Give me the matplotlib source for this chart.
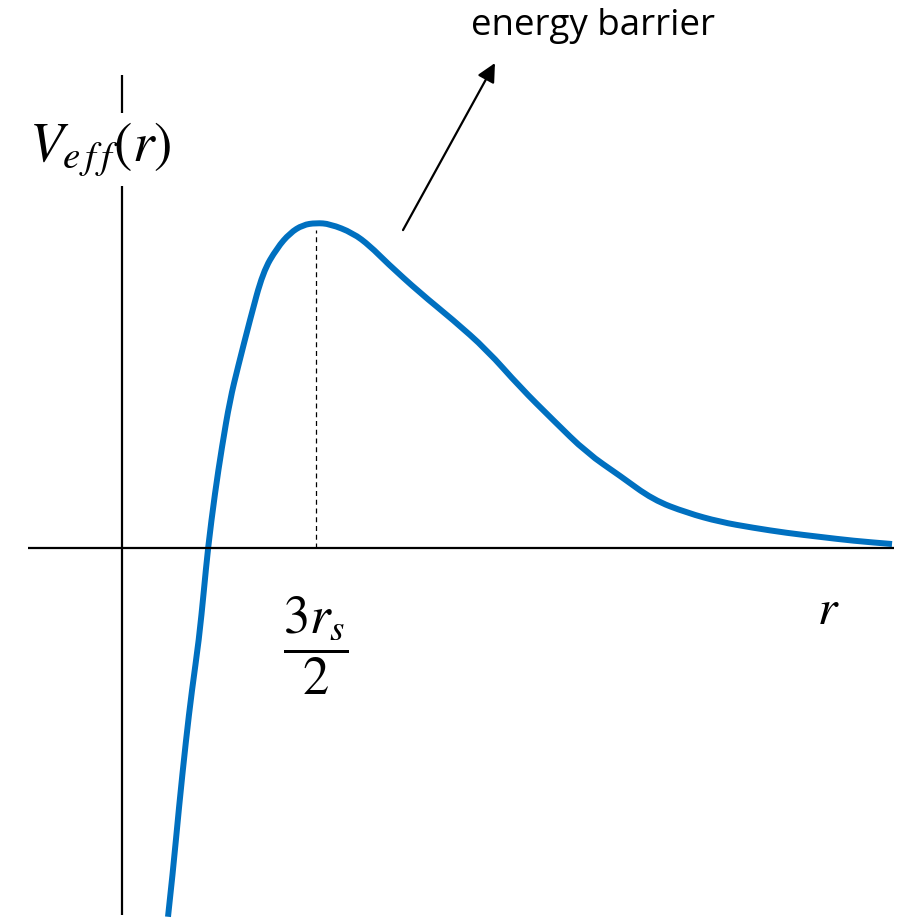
import matplotlib
matplotlib.use("Agg")
import matplotlib.pyplot as plt
from matplotlib.patches import FancyArrowPatch, PathPatch
from matplotlib.path import Path

plt.rcParams['mathtext.fontset'] = 'stix'

# Effective potential V_eff(r): r in units of r_s, V normalised to the barrier height
r_vals = [0.356, 0.394, 0.441, 0.495, 0.541, 0.595, 0.634, 0.665,
          0.719, 0.773, 0.835, 0.897, 0.990, 1.090, 1.199, 1.299,
          1.399, 1.500, 1.608, 1.786, 1.918, 2.049, 2.304, 2.559,
          2.822, 3.077, 3.332, 3.595, 3.851, 4.106, 4.369, 4.624,
          4.879, 5.142, 5.397, 5.652, 5.954]
v_vals = [-1.135, -0.997, -0.797, -0.591, -0.437, -0.283, -0.129, 0.000,
          0.169, 0.311, 0.455, 0.557, 0.702, 0.849, 0.923, 0.969,
          0.994, 1.000, 0.997, 0.969, 0.929, 0.877, 0.785, 0.702,
          0.609, 0.495, 0.394, 0.292, 0.222, 0.148, 0.108, 0.080,
          0.062, 0.046, 0.034, 0.022, 0.012]

r_peak = 1.5          # 3 r_s / 2
v_peak = 1.0


def smooth_path(xs, ys):
    """Quadratic Bezier path through the midpoints, using the samples as controls."""
    pts = list(zip(xs, ys))
    verts = [pts[0]]
    codes = [Path.MOVETO]
    for i in range(1, len(pts) - 1):
        mid = ((pts[i][0] + pts[i + 1][0]) / 2, (pts[i][1] + pts[i + 1][1]) / 2)
        verts += [pts[i], mid]
        codes += [Path.CURVE3, Path.CURVE3]
    verts.append(pts[-1])
    codes.append(Path.LINETO)
    return Path(verts, codes)


fig = plt.figure(figsize=(9.1, 9.21), dpi=100)
ax = fig.add_axes([0, 0, 1, 1])
ax.set_xlim(-0.943, 6.093)
ax.set_ylim(-1.148, 1.686)
ax.axis('off')

# axes of the sketch
ax.plot([-0.727, 5.969], [0, 0], color='black', lw=1.6, solid_capstyle='butt')
ax.plot([0, 0], [1.455, 1.338], color='black', lw=1.6, solid_capstyle='butt')
ax.plot([0, 0], [1.114, -1.129], color='black', lw=1.6, solid_capstyle='butt')

# barrier position
ax.plot([r_peak, r_peak], [0, 0.978], color='black', lw=0.9, ls=(0, (4, 3)))

# potential curve
ax.add_patch(PathPatch(smooth_path(r_vals, v_vals), facecolor='none',
                       edgecolor='#0070C0', lw=4.3, joinstyle='round',
                       capstyle='butt'))

# annotation arrow
arrow = FancyArrowPatch((2.173, 0.978), (2.884, 1.492),
                        arrowstyle='-|>', mutation_scale=28,
                        color='black', lw=1.6, shrinkA=0, shrinkB=0)
ax.add_patch(arrow)

ax.text(3.642, 1.605, 'energy barrier', fontsize=26.5, family='Open Sans',
        ha='center', va='center')
ax.text(-0.17, 1.225, r'$V_{e\,f\,f}(r)$', fontsize=40, ha='center', va='center')
ax.text(r_peak, -0.30, r'$\dfrac{3r_s}{2}$', fontsize=38, ha='center', va='center')
ax.text(5.459, -0.19, r'$r$', fontsize=36, ha='center', va='center')

fig.savefig('out.png', dpi=100)
